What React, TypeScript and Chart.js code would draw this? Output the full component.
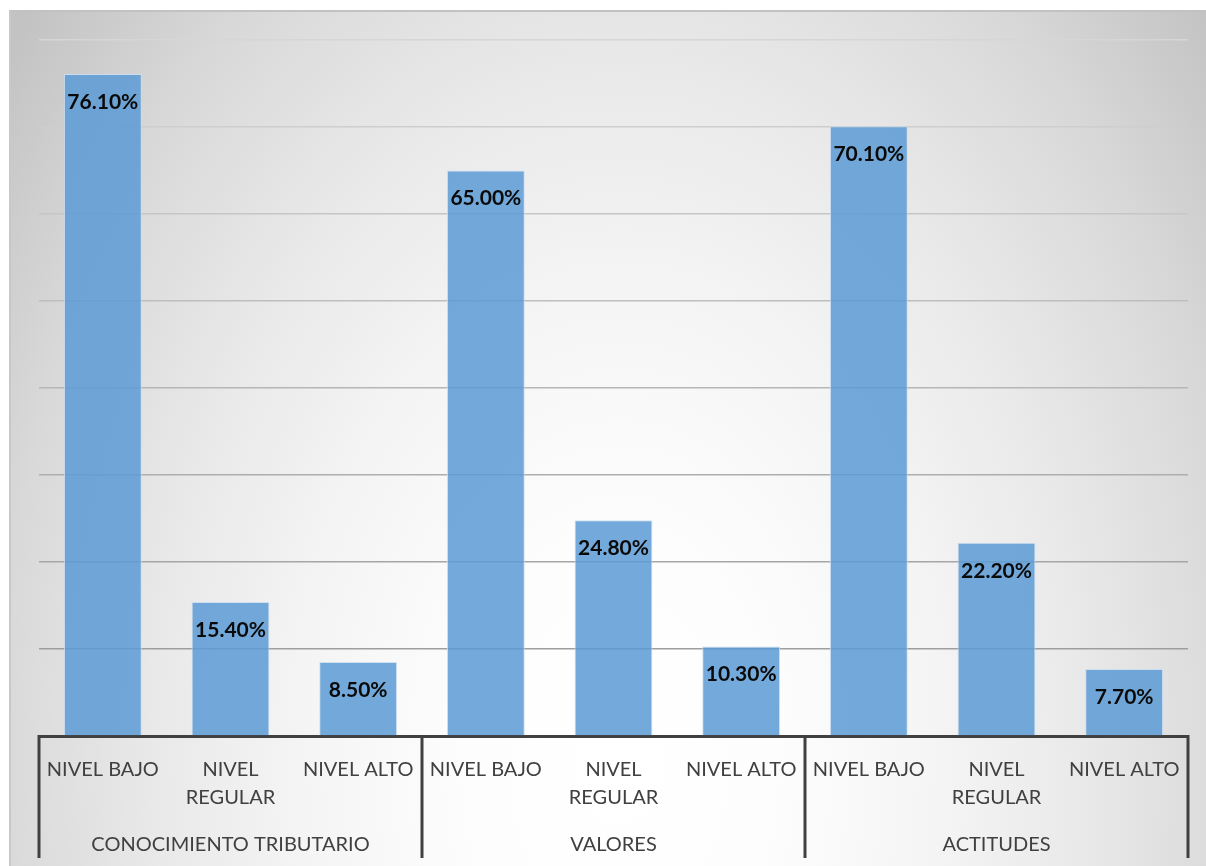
import React, { useEffect, useRef } from "react";
import { Chart, registerables } from "chart.js";

Chart.register(...registerables);

const categories: (string | string[])[] = [
  "NIVEL BAJO", ["NIVEL", "REGULAR"], "NIVEL ALTO",
  "NIVEL BAJO", ["NIVEL", "REGULAR"], "NIVEL ALTO",
  "NIVEL BAJO", ["NIVEL", "REGULAR"], "NIVEL ALTO",
];
const groups = ["CONOCIMIENTO TRIBUTARIO", "VALORES", "ACTITUDES"];
const groupSizes = [3, 3, 3];
const values = [76.1, 15.4, 8.5, 65.0, 24.8, 10.3, 70.1, 22.2, 7.7];
const yMin = 0;
const yMax = 80;
const yStep = 10;

const FONT = "Lato, 'Open Sans', sans-serif";

const backgroundPlugin = {
  id: "bgPlugin",
  beforeDraw(chart: any) {
    const ctx = chart.ctx as CanvasRenderingContext2D;
    const W = chart.width, H = chart.height;
    ctx.save();
    ctx.fillStyle = "#ffffff";
    ctx.fillRect(0, 0, W, H);
    const x0 = 9, y0 = 10;
    ctx.beginPath();
    ctx.rect(x0, y0, W - x0, H - y0);
    ctx.clip();
    const cx = 620, cy = 760, a = 775, b = 1155;
    ctx.translate(cx, cy);
    ctx.scale(1, b / a);
    const g = ctx.createRadialGradient(0, 0, 0, 0, 0, a);
    [0, 0.2, 0.4, 0.6, 0.8, 1].forEach((t) => {
      const v = Math.round(255 - 60 * t * t);
      g.addColorStop(t, `rgb(${v},${v},${v})`);
    });
    ctx.fillStyle = g;
    ctx.fillRect(-3000, -3000, 6000, 6000);
    ctx.restore();
    ctx.save();
    ctx.fillStyle = "#c2c2c2";
    ctx.fillRect(x0, y0, W - x0, 2);
    ctx.fillStyle = "#c8c8c8";
    ctx.fillRect(x0, y0, 2, H - y0);
    ctx.restore();
  },
};

const labelsPlugin = {
  id: "valueLabels",
  afterDatasetsDraw(chart: any) {
    const ctx = chart.ctx as CanvasRenderingContext2D;
    const meta = chart.getDatasetMeta(0);
    ctx.save();
    ctx.font = `bold 21px ${FONT}`;
    ctx.fillStyle = "#0a0a0a";
    ctx.textAlign = "center";
    ctx.textBaseline = "middle";
    meta.data.forEach((bar: any, i: number) => {
      ctx.fillText(values[i].toFixed(2) + "%", bar.x, bar.y + 28);
    });
    ctx.restore();
  },
};

const groupsPlugin = {
  id: "groupAxis",
  afterDraw(chart: any) {
    const ctx = chart.ctx as CanvasRenderingContext2D;
    const xs = chart.scales.x;
    const n = categories.length;
    const cw = (xs.right - xs.left) / n;
    const top = chart.chartArea.bottom - 1;
    const bottom = 858;
    ctx.save();
    ctx.strokeStyle = "#404040";
    ctx.lineWidth = 3;
    let idx = 0;
    const bounds: number[] = [xs.getPixelForValue(0) - cw / 2];
    groupSizes.forEach((s) => {
      idx += s;
      bounds.push(xs.getPixelForValue(idx - 1) + cw / 2);
    });
    bounds.forEach((bx) => {
      ctx.beginPath();
      ctx.moveTo(bx, top);
      ctx.lineTo(bx, bottom);
      ctx.stroke();
    });
    ctx.font = `20px ${FONT}`;
    ctx.fillStyle = "#404040";
    ctx.textAlign = "center";
    ctx.textBaseline = "middle";
    groups.forEach((gname, gi) => {
      ctx.fillText(gname, (bounds[gi] + bounds[gi + 1]) / 2, 845);
    });
    ctx.restore();
  },
};

export default function App() {
  const ref = useRef<HTMLCanvasElement | null>(null);
  useEffect(() => {
    if (!ref.current) return;
    const chart = new Chart(ref.current, {
      type: "bar",
      data: {
        labels: categories as any,
        datasets: [
          {
            data: values,
            backgroundColor: "rgba(91,155,213,0.85)",
            borderColor: "rgba(205,222,240,0.9)",
            borderWidth: 1,
            categoryPercentage: 1,
            barPercentage: 0.61,
          },
        ],
      },
      options: {
        responsive: false,
        animation: false,
        devicePixelRatio: 1,
        layout: { padding: { left: 39, right: 18, top: 40, bottom: 0 } },
        plugins: {
          legend: { display: false },
          tooltip: { enabled: false },
          title: { display: false },
        },
        scales: {
          x: {
            grid: { display: false, drawTicks: false },
            border: { display: true, color: "#404040", width: 3 },
            ticks: {
              color: "#404040",
              font: { family: FONT, size: 20, lineHeight: 1.4 },
              padding: 20,
              maxRotation: 0,
              autoSkip: false,
            },
            afterFit: (s: any) => {
              s.height = 130;
            },
          },
          y: {
            min: yMin,
            max: yMax,
            ticks: { display: false, stepSize: yStep },
            border: { display: false },
            grid: {
              drawTicks: false,
              lineWidth: 1.5,
              color: (c: any) => {
                const v = c.tick ? c.tick.value : 0;
                if (v === 0) return "rgba(0,0,0,0)";
                const g = Math.round(150 + v * 0.8);
                return `rgb(${g},${g},${g})`;
              },
            },
            afterFit: (s: any) => {
              s.width = 0;
            },
          },
        },
      },
      plugins: [backgroundPlugin, labelsPlugin, groupsPlugin],
    });
    return () => chart.destroy();
  }, []);
  return (
    <div style={{ position: "fixed", left: 0, top: 0, width: 1206, height: 866 }}>
      <canvas ref={ref} width={1206} height={866} style={{ display: "block" }} />
    </div>
  );
}
